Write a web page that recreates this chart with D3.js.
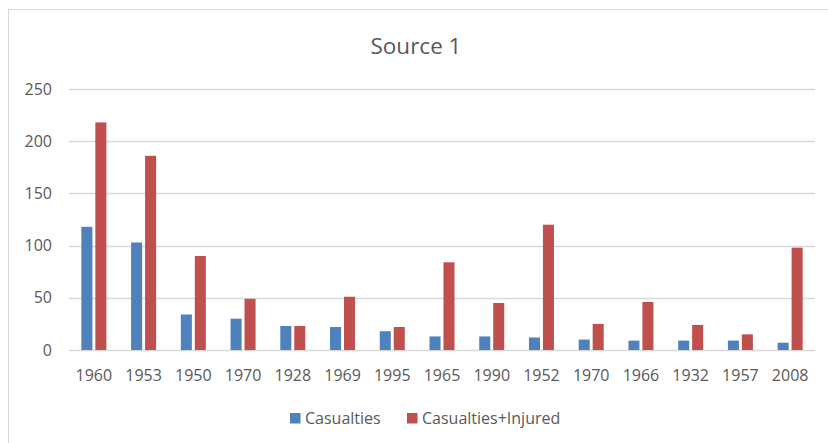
<!DOCTYPE html>
<html>
<head>
<meta charset="utf-8">
<script src="https://cdn.jsdelivr.net/npm/d3@7"></script>
<style>
  body { margin: 0; background: #fff; }
  text { font-family: "Open Sans", "Noto Sans", sans-serif; fill: #595959; }
</style>
</head>
<body>
<div id="chart"></div>
<script>
const years = ["1960", "1953", "1950", "1970", "1928", "1969", "1995", "1965", "1990", "1952", "1970", "1966", "1932", "1957", "2008"];
const casualties = [118, 103, 34, 30, 23, 22, 18, 13, 13, 12, 10, 9, 9, 9, 7];
const casualtiesInjured = [218, 186, 90, 49, 23, 51, 22, 84, 45, 120, 25, 46, 24, 15, 98];
const seriesNames = ["Casualties", "Casualties+Injured"];
const seriesColors = ["#4f81bd", "#c0504d"];
const yTicks = [0, 50, 100, 150, 200, 250];

const width = 828, height = 443;
const plot = { left: 69, right: 815, top: 89, bottom: 350 };

const svg = d3.select("#chart").append("svg")
    .attr("width", width)
    .attr("height", height);

// chart area frame (only top and left edges show in the picture)
svg.append("rect")
    .attr("x", 8.5).attr("y", 9.5)
    .attr("width", 840).attr("height", 450)
    .attr("fill", "#fff")
    .attr("stroke", "#d9d9d9");

svg.append("text")
    .attr("x", 416).attr("y", 54)
    .attr("text-anchor", "middle")
    .style("font-size", "22.5px")
    .text("Source 1");

const x0 = d3.scaleBand()
    .domain(years.map((d, i) => i))
    .range([plot.left, plot.right]);

const bw = x0.bandwidth();
const x1 = d3.scaleBand()
    .domain([0, 1])
    .range([bw / 2 - 12.5, bw / 2 + 12.5])
    .paddingInner(0.21);

const y = d3.scaleLinear()
    .domain([0, 250])
    .range([plot.bottom, plot.top]);

// gridlines
svg.append("g").selectAll("line").data(yTicks).enter().append("line")
    .attr("x1", plot.left)
    .attr("x2", plot.right)
    .attr("y1", d => Math.round(y(d)) + 0.5)
    .attr("y2", d => Math.round(y(d)) + 0.5)
    .attr("stroke", "#d9d9d9")
    .attr("stroke-width", 1.3);

// y axis labels
const yAxis = d3.axisLeft(y).tickValues(yTicks).tickSize(0).tickPadding(0);
svg.append("g")
    .attr("transform", `translate(52,0)`)
    .call(yAxis)
    .call(g => g.select(".domain").remove())
    .selectAll("text")
    .style("font-size", "16px")
    .attr("fill", "#595959");

// bars
const rows = years.map((yr, i) => ({ i, vals: [casualties[i], casualtiesInjured[i]] }));
const groups = svg.append("g").selectAll("g").data(rows).enter().append("g")
    .attr("transform", d => `translate(${x0(d.i)},0)`);

groups.selectAll("rect")
    .data(d => d.vals.map((v, s) => ({ v, s })))
    .enter().append("rect")
    .attr("x", d => x1(d.s))
    .attr("width", x1.bandwidth())
    .attr("y", d => y(d.v))
    .attr("height", d => y(0) - y(d.v))
    .attr("fill", d => seriesColors[d.s]);

// x axis labels
const xAxis = d3.axisBottom(x0).tickFormat(i => years[i]).tickSize(0).tickPadding(0);
svg.append("g")
    .attr("transform", `translate(0,${plot.bottom + 20})`)
    .call(xAxis)
    .call(g => g.select(".domain").remove())
    .selectAll("text")
    .style("font-size", "16px")
    .attr("fill", "#595959");

// legend
const legendItems = [{ x: 290, name: seriesNames[0], c: seriesColors[0] },
                     { x: 407, name: seriesNames[1], c: seriesColors[1] }];
const legend = svg.append("g").selectAll("g").data(legendItems).enter().append("g")
    .attr("transform", d => `translate(${d.x},413)`);
legend.append("rect")
    .attr("width", 10.5).attr("height", 10.5)
    .attr("fill", d => d.c);
legend.append("text")
    .attr("x", 15).attr("y", 5.5)
    .attr("dy", "0.35em")
    .style("font-size", "16px")
    .text(d => d.name);
</script>
</body>
</html>
